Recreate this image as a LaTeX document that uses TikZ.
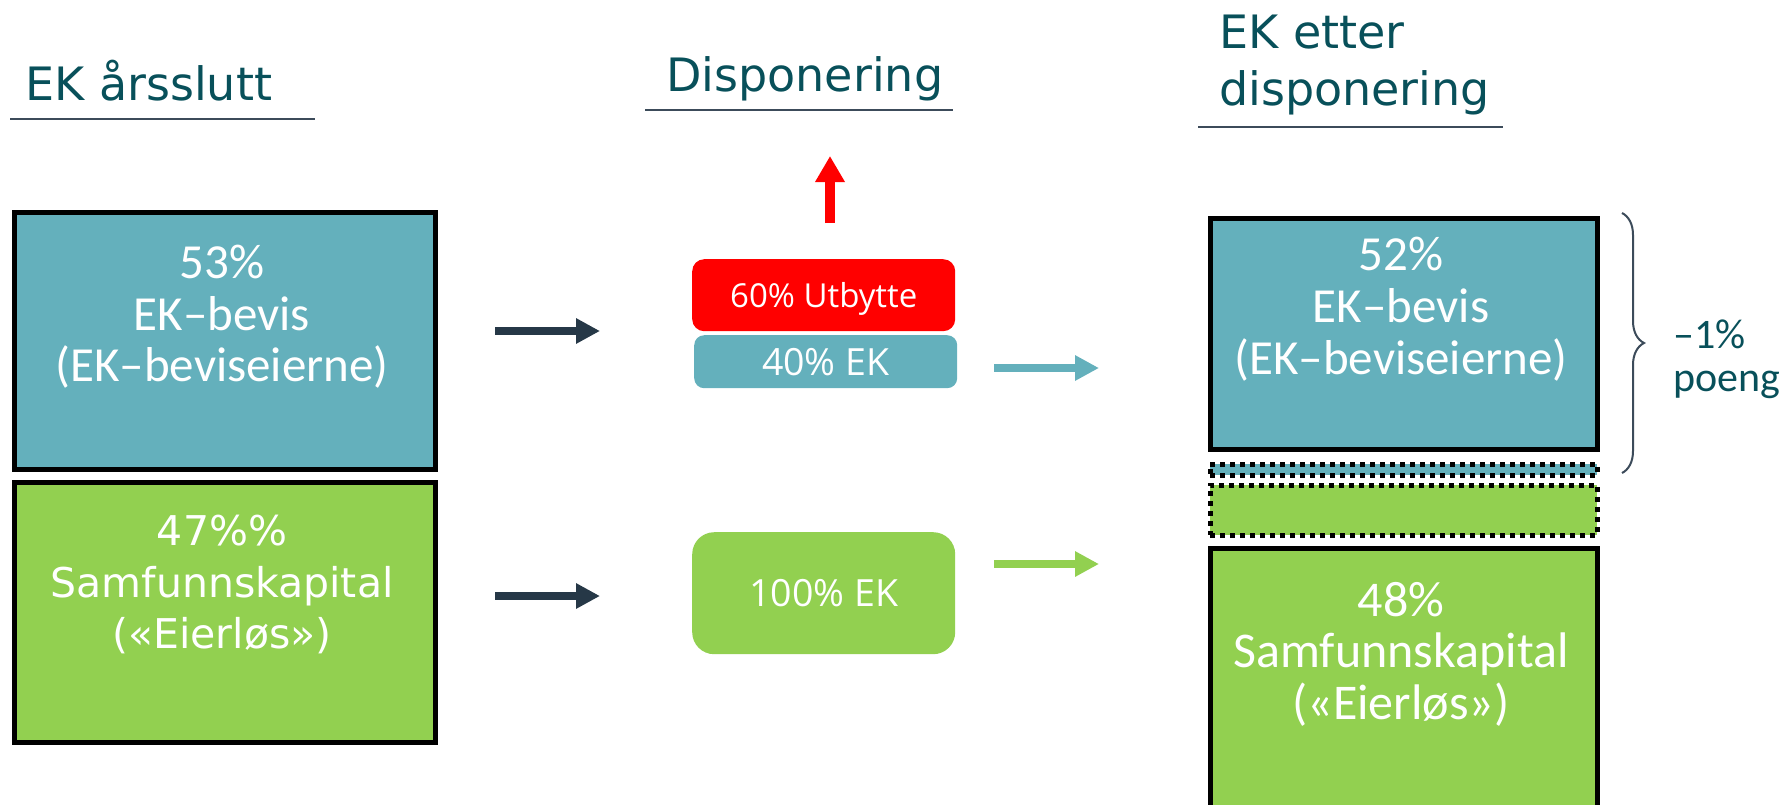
\documentclass[tikz,border=0pt]{standalone}
\usepackage{fontspec}
\setmainfont{DejaVu Sans}
\newfontfamily\carlito{Carlito}
\newfontfamily\opensans{Open Sans}
\usetikzlibrary{arrows.meta,decorations.pathreplacing}
\definecolor{ekblue}{RGB}{100,176,188}
\definecolor{ekgreen}{RGB}{146,208,80}
\definecolor{ektitle}{RGB}{8,80,90}
\definecolor{ekline}{RGB}{60,75,90}
\definecolor{ekdark}{RGB}{38,56,71}
\definecolor{ekred}{RGB}{255,0,0}
\begin{document}
\begin{tikzpicture}[x=1pt,y=-1pt,
  bigbox/.style={draw=black,line width=5pt,rectangle,inner sep=0pt,anchor=north west},
  dotbox/.style={draw=black,line width=5pt,dash pattern=on 5pt off 5pt,rectangle,inner sep=0pt,anchor=north west},
  pill/.style={rectangle,rounded corners=#1,inner sep=0pt,text=white,anchor=north west,text depth=0pt},
  title/.style={text=ektitle,inner sep=0pt,font=\fontsize{46}{57}\selectfont},
  boxtext/.style={text=white,inner sep=0pt,align=center,anchor=north},
  flow/.style={line width=8pt,-{Triangle[length=24pt 0 0,width=24pt 0 0]}},
  uline/.style={draw=ekline,line width=2.5pt}]
\useasboundingbox (0,0) rectangle (1791,804);

% titles
\node[title,anchor=base west] (t1) at (25,100) {EK årsslutt};
\node[title,anchor=base west] (t2) at (666,91) {Disponering};
\node[title,anchor=north west,align=left] (t3) at (1219,14.5) {EK etter\\disponering};
\coordinate (u1a) at (10,119);   \coordinate (u1b) at (315,119);
\coordinate (u2a) at (645,110);  \coordinate (u2b) at (953,110);
\coordinate (u3a) at (1198,127); \coordinate (u3b) at (1503,127);
\draw[uline] (u1a) -- (u1b);
\draw[uline] (u2a) -- (u2b);
\draw[uline] (u3a) -- (u3b);

% left column
\node[bigbox,fill=ekblue,minimum width=421pt,minimum height=257pt] (lb) at (11.5,209.5) {};
\node[bigbox,fill=ekgreen,minimum width=421pt,minimum height=260pt] (lg) at (11.5,479.5) {};
\node[boxtext,font=\carlito\fontsize{49}{51.5}\selectfont] (lbt) at (222,245) {53\%\\EK–bevis\\(EK–beviseierne)};
\node[boxtext,font=\fontsize{41}{51.5}\selectfont] (lgt) at (222,515) {47\%\%\\Samfunnskapital\\(«Eierløs»)};

% middle column
\node[pill=12pt,fill=ekred,minimum width=263pt,minimum height=72pt,text height=23.6pt,font=\opensans\fontsize{33}{40}\selectfont] (mr) at (692,259) {60\% Utbytte};
\node[pill=10pt,fill=ekblue,minimum width=263pt,minimum height=53pt,text height=26.8pt,font=\opensans\fontsize{37.5}{44}\selectfont] (mb) at (694,335) {40\% EK};
\node[pill=22pt,fill=ekgreen,minimum width=263pt,minimum height=122pt,text height=26.8pt,font=\opensans\fontsize{37.5}{44}\selectfont] (mg) at (692,532) {100\% EK};

% right column
\node[bigbox,fill=ekblue,minimum width=387pt,minimum height=231pt] (rb) at (1207.5,215.5) {};
\node[dotbox,fill=ekblue,minimum width=387pt,minimum height=11pt] (rdb) at (1207.5,461.5) {};
\node[dotbox,fill=ekgreen,minimum width=387pt,minimum height=50pt] (rdg) at (1207.5,482.5) {};
\node[bigbox,fill=ekgreen,minimum width=387pt,minimum height=275pt] (rg) at (1207.5,545.5) {};
\node[boxtext,font=\carlito\fontsize{49}{52}\selectfont] (rbt) at (1401,237) {52\%\\EK–bevis\\(EK–beviseierne)};
\node[boxtext,font=\carlito\fontsize{50}{51.5}\selectfont] (rgt) at (1401,582) {48\%\\Samfunnskapital\\(«Eierløs»)};

% arrows
\coordinate (a1s) at (495,331); \coordinate (a1e) at (600,331);
\coordinate (a2s) at (495,596); \coordinate (a2e) at (600,596);
\coordinate (a3s) at (994,368); \coordinate (a3e) at (1099,368);
\coordinate (a4s) at (994,564); \coordinate (a4e) at (1099,564);
\coordinate (a5s) at (830,223); \coordinate (a5e) at (830,156);
\draw[flow,draw=ekdark,fill=ekdark] (a1s) -- (a1e);
\draw[flow,draw=ekdark,fill=ekdark] (a2s) -- (a2e);
\draw[flow,draw=ekblue,fill=ekblue] (a3s) -- (a3e);
\draw[flow,draw=ekgreen,fill=ekgreen] (a4s) -- (a4e);
\draw[draw=ekred,line width=10pt,-{Triangle[length=26pt 0 0,width=28pt 0 0]}] (a5s) -- (a5e);

% brace
\coordinate (bt) at (1622,213); \coordinate (bb) at (1622,473);
\draw[ekline,line width=2pt,decorate,decoration={brace,amplitude=22pt}] (bt) -- (bb);
\node[anchor=north west,align=left,inner sep=0pt,text=ektitle,font=\carlito\fontsize{42}{43}\selectfont] (lbl) at (1673,320) {–1\%\\poeng};
\end{tikzpicture}
\end{document}
